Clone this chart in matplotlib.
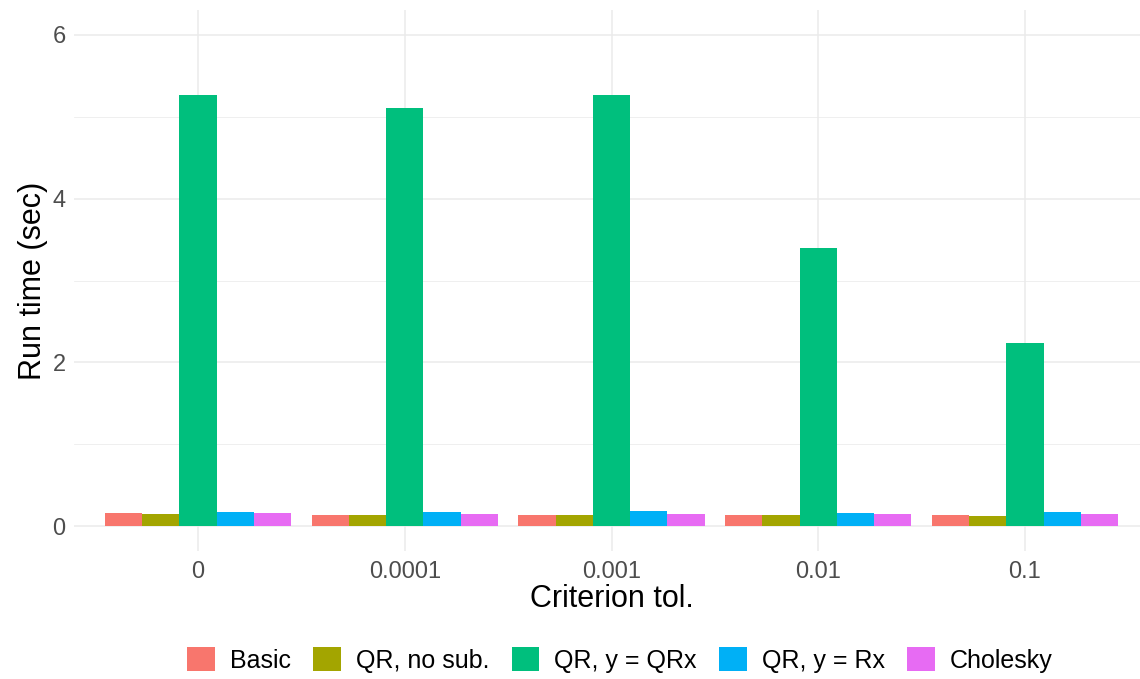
import matplotlib
matplotlib.use("Agg")
import matplotlib.pyplot as plt
import numpy as np
from matplotlib.patches import Patch

plt.rcParams['font.family'] = ['Liberation Sans', 'DejaVu Sans']

# Criterion tolerance levels (x categories)
tolerances = ["0", "0.0001", "0.001", "0.01", "0.1"]

# Methods and their run times (seconds) per tolerance level
methods = ["Basic", "QR, no sub.", "QR, y = QRx", "QR, y = Rx", "Cholesky"]
basic = [0.167, 0.142, 0.142, 0.142, 0.142]
qr_nosub = [0.146, 0.142, 0.142, 0.142, 0.130]
qr_qrx = [5.26, 5.11, 5.26, 3.395, 2.24]
qr_rx = [0.179, 0.179, 0.19, 0.167, 0.179]
cholesky = [0.167, 0.155, 0.155, 0.155, 0.155]

series = [basic, qr_nosub, qr_qrx, qr_rx, cholesky]
colors = ["#F8766D", "#A3A500", "#00BF7D", "#00B0F6", "#E76BF3"]

W, H = 1140, 679
fig = plt.figure(figsize=(W / 100, H / 100), dpi=100)
ax = fig.add_axes([74 / W, 1 - 551 / H, (1149 - 74) / W, (551 - 10) / H])

x = np.arange(1, len(tolerances) + 1)
n = len(series)
dodge = 0.9
bw = dodge / n
for i, (vals, c) in enumerate(zip(series, colors)):
    offs = -dodge / 2 + bw * (i + 0.5)
    ax.bar(x + offs, vals, width=bw, color=c, linewidth=0, zorder=3)

ax.set_xlim(0.4, 5.6)
ax.set_ylim(-0.3, 6.3)
ax.set_xticks(x)
ax.set_xticklabels(tolerances)
ax.set_yticks([0, 2, 4, 6])
ax.set_yticks([1, 3, 5], minor=True)

ax.grid(True, which="major", color="#EBEBEB", linewidth=1.1, zorder=0)
ax.grid(True, which="minor", axis="y", color="#EBEBEB", linewidth=0.55, zorder=0)
for s in ax.spines.values():
    s.set_visible(False)
ax.tick_params(which="both", length=0)
ax.tick_params(axis="both", labelsize=17, labelcolor="#4D4D4D")
ax.tick_params(axis="x", pad=7)
ax.tick_params(axis="y", pad=6)

ax.set_xlabel("Criterion tol.", fontsize=22, labelpad=1)
ax.set_ylabel("Run time (sec)", fontsize=22, labelpad=3)

handles = [Patch(facecolor=c, edgecolor="none", label=m) for m, c in zip(methods, colors)]
fig.legend(handles=handles, loc="center", bbox_to_anchor=(620 / W, 1 - 660 / H),
           ncol=5, frameon=False, fontsize=18, handlelength=1.1, handleheight=1.1,
           handletextpad=0.6, columnspacing=0.9, borderaxespad=0)

fig.savefig("out.png", dpi=100)
